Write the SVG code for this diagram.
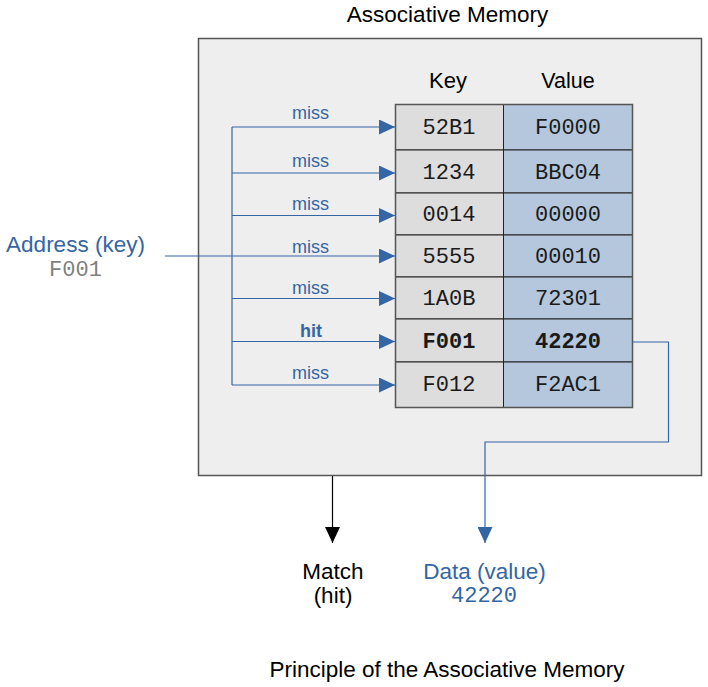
<svg xmlns="http://www.w3.org/2000/svg" width="708" height="687" viewBox="0 0 708 687">
<defs>
<style>
.sans{font-family:"Liberation Sans",Arial,sans-serif}
.mono{font-family:"Liberation Mono","Courier New",monospace;font-size:22px}
.t22{font-size:22.5px;fill:#000}
.blue{fill:#3465a4}
.lbl{font-family:"Liberation Sans",Arial,sans-serif;font-size:18px;fill:#3465a4;text-anchor:middle}
.cell{fill:#1a1a1a;text-anchor:middle}
.key{fill:#dddddd;stroke:#222;stroke-width:1}
.val{fill:#b4c7dc;stroke:#222;stroke-width:1}
.conn{fill:none;stroke:#3465a4;stroke-width:1.2}
</style>
<marker id="ab" viewBox="0 0 16 15" refX="16" refY="7.5" markerWidth="16" markerHeight="15" markerUnits="userSpaceOnUse" orient="auto">
<path d="M0,0 L16,7.5 L0,15 Z" fill="#3465a4"/>
</marker>
<marker id="ak" viewBox="0 0 16 15" refX="16" refY="7.5" markerWidth="16" markerHeight="15" markerUnits="userSpaceOnUse" orient="auto">
<path d="M0,0 L16,7.5 L0,15 Z" fill="#000"/>
</marker>
</defs>
<rect width="708" height="687" fill="#fff"/>
<text class="sans t22" x="447.5" y="22" text-anchor="middle">Associative Memory</text>
<g id="memory">
<rect x="198.5" y="38.5" width="503" height="437" fill="#eeeeee" stroke="#555" stroke-width="1.5"/>
<text class="sans" x="448" y="88" font-size="22" text-anchor="middle">Key</text>
<text class="sans" x="568" y="88" font-size="21.5" text-anchor="middle">Value</text>
</g>
<g id="table">
<rect class="key" x="395.5" y="104.5" width="108" height="45.5"/>
<rect class="val" x="503.5" y="104.5" width="129" height="45.5"/>
<rect class="key" x="395.5" y="150" width="108" height="43"/>
<rect class="val" x="503.5" y="150" width="129" height="43"/>
<rect class="key" x="395.5" y="193" width="108" height="42"/>
<rect class="val" x="503.5" y="193" width="129" height="42"/>
<rect class="key" x="395.5" y="235" width="108" height="42"/>
<rect class="val" x="503.5" y="235" width="129" height="42"/>
<rect class="key" x="395.5" y="277" width="108" height="42"/>
<rect class="val" x="503.5" y="277" width="129" height="42"/>
<rect class="key" x="395.5" y="319" width="108" height="43"/>
<rect class="val" x="503.5" y="319" width="129" height="43"/>
<rect class="key" x="395.5" y="362" width="108" height="45.5"/>
<rect class="val" x="503.5" y="362" width="129" height="45.5"/>
<rect x="395.5" y="104.5" width="237" height="303" fill="none" stroke="#555" stroke-width="1.5"/>
<text class="mono cell" x="449" y="133.5">52B1</text>
<text class="mono cell" x="568" y="133.5">F0000</text>
<text class="mono cell" x="449" y="178.5">1234</text>
<text class="mono cell" x="568" y="178.5">BBC04</text>
<text class="mono cell" x="449" y="220.5">0014</text>
<text class="mono cell" x="568" y="220.5">00000</text>
<text class="mono cell" x="449" y="262.5">5555</text>
<text class="mono cell" x="568" y="262.5">00010</text>
<text class="mono cell" x="449" y="304.5">1A0B</text>
<text class="mono cell" x="568" y="304.5">72301</text>
<text class="mono cell" x="449" y="347.5" font-weight="bold">F001</text>
<text class="mono cell" x="568" y="347.5" font-weight="bold">42220</text>
<text class="mono cell" x="449" y="391">F012</text>
<text class="mono cell" x="568" y="391">F2AC1</text>
</g>
<g id="address">
<text class="sans blue" x="75.5" y="252" font-size="22.5" text-anchor="middle">Address (key)</text>
<text class="mono" x="75.5" y="276" fill="#808080" text-anchor="middle">F001</text>
</g>
<g id="connectors">
<path class="conn" d="M232,385 V127"/>
<path class="conn" d="M232,127 H395" marker-end="url(#ab)"/>
<path class="conn" d="M232,173 H395" marker-end="url(#ab)"/>
<path class="conn" d="M232,215.5 H395" marker-end="url(#ab)"/>
<path class="conn" d="M165,256 H395" marker-end="url(#ab)"/>
<path class="conn" d="M232,298.5 H395" marker-end="url(#ab)"/>
<path class="conn" d="M232,341.5 H395" marker-end="url(#ab)"/>
<path class="conn" d="M232,385 H395" marker-end="url(#ab)"/>
<path class="conn" d="M632,342 H668.5 V442 H485 V543" marker-end="url(#ab)"/>
<path fill="none" stroke="#000" stroke-width="1.2" d="M332.5,476 V543" marker-end="url(#ak)"/>
<text class="lbl" x="310.5" y="119">miss</text>
<text class="lbl" x="310.5" y="167">miss</text>
<text class="lbl" x="310.5" y="210">miss</text>
<text class="lbl" x="310.5" y="253">miss</text>
<text class="lbl" x="310.5" y="294">miss</text>
<text class="lbl" x="311" y="337" font-weight="bold">hit</text>
<text class="lbl" x="310.5" y="379">miss</text>
</g>
<g id="match">
<text class="sans t22" x="333" y="579" text-anchor="middle">Match</text>
<text class="sans t22" x="333" y="603" text-anchor="middle">(hit)</text>
</g>
<g id="data">
<text class="sans blue" x="484.5" y="579" font-size="22.5" text-anchor="middle">Data (value)</text>
<text class="mono" x="484" y="602" fill="#3465a4" text-anchor="middle">42220</text>
</g>
<text class="sans t22" x="447" y="677" text-anchor="middle">Principle of the Associative Memory</text>
</svg>
